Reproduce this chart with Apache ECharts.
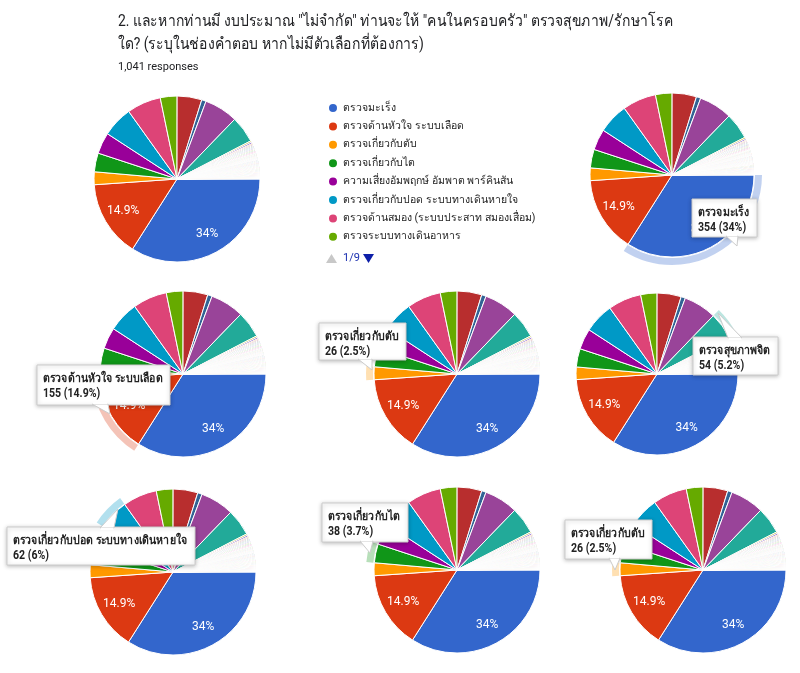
<!DOCTYPE html>
<html><head><meta charset="utf-8">
<script src="https://cdn.jsdelivr.net/npm/echarts@6/dist/echarts.min.js"></script>
<style>html,body{margin:0;padding:0;background:#fff}#c{width:800px;height:673px}</style>
</head><body><div id="c"></div>
<script>
const titleLines = ['2. และหากท่านมี งบประมาณ "ไม่จำกัด" ท่านจะให้ "คนในครอบครัว" ตรวจสุขภาพ/รักษาโรค', 'ใด? (ระบุในช่องคำตอบ หากไม่มีตัวเลือกที่ต้องการ)'];
const subtitle = '1,041 responses';
const legendPageText = '1/9';
const mainNames = ['ตรวจมะเร็ง','ตรวจด้านหัวใจ ระบบเลือด','ตรวจเกี่ยวกับตับ','ตรวจเกี่ยวกับไต','ความเสี่ยงอัมพฤกษ์ อัมพาต พาร์คินสัน','ตรวจเกี่ยวกับปอด ระบบทางเดินหายใจ','ตรวจด้านสมอง (ระบบประสาท สมองเสื่อม)','ตรวจระบบทางเดินอาหาร','ตัวเลือก 9','ตัวเลือก 10','ตัวเลือก 11','ตรวจสุขภาพจิต'];
const mainValues = [354,155,26,38,43,62,69,34,50,9,68,54];
const otherValues = [3,3,2,2,2,2,2,2,2,2,2,2,1,1,1,1,1,1,1,1,1,1,1,1,1,1,1,1,1,1,1,1,1,1,1,1,1,1,1,1,1,1,1,1,1,1,1,1,1,1,1,1,1,1,1,1,1,1,1,1,1,1,1,1,1];
const palette = ['#3366cc','#dc3912','#ff9900','#109618','#990099','#0099c6','#dd4477','#66aa00','#b82e2e','#316395','#994499','#22aa99','#aaaa11','#6633cc','#e67300','#8b0707','#651067','#329262','#5574a6','#3b3eac','#b77322','#16d620','#b91383','#f4359e','#9c5935','#a9c413','#2a778d','#668d1c','#bea413','#0c5922','#743411'];
// pies: center, radius, highlighted slice index (-1 none), tooltip box position
const pies = [
  {c:[177,179], r:83, hi:-1},
  {c:[672,175], r:82, hi:0, box:[692,199,38], ptr:[[726,236],[738,236],[737,246]]},
  {c:[183,374], r:83, hi:1, box:[37,365,40], ptr:[[92,404],[108,404],[110,414]]},
  {c:[457,374], r:83, hi:2, box:[319,323,37], ptr:[[358,359],[372,359],[372,370]]},
  {c:[657,374], r:81, hi:11, box:[693,337,38], ptr:[[728,338],[742,338],[718,313]]},
  {c:[173,572], r:83, hi:5, box:[7,527,38], ptr:[[100,528],[114,528],[118,509]]},
  {c:[457,570], r:83, hi:3, box:[322,503,39], ptr:[[360,541],[373,541],[370,553]]},
  {c:[703,570], r:83, hi:2, box:[565,520,39], ptr:[[609,558],[620,558],[615,570]]}
];

const names = mainNames.concat(otherValues.map((v,i)=>'คำตอบอื่น ' + (i+1)));
const values = mainValues.concat(otherValues);
const total = values.reduce((a,b)=>a+b,0);
const colorOf = i => palette[i % palette.length];
const pct = v => { const p = Math.round(v/total*1000)/10; return (p % 1 === 0 ? p.toFixed(0) : p.toFixed(1)) + '%'; };
const data = names.map((n,i)=>({name:n, value:values[i], itemStyle:{color:colorOf(i)}}));
const FONT = 'Roboto, Arial, "Noto Sans", "DejaVu Sans", sans-serif';
const TIPFONT = 'bold 12px ' + FONT;
const TIPSCALE = 0.88;
const mctx = document.createElement('canvas').getContext('2d');
function textW(t, f){ mctx.font = f; return mctx.measureText(t).width; }
function hexA(hex, a){ const n=parseInt(hex.slice(1),16); return `rgba(${n>>16&255},${n>>8&255},${n&255},${a})`; }

const series = [];
const graphic = [];
pies.forEach((p, k) => {
  series.push({type:'pie', center:p.c, radius:[0,p.r], startAngle:0, clockwise:true, silent:true, animation:false,
    avoidLabelOverlap:false, label:{show:false}, labelLine:{show:false},
    itemStyle:{borderColor:'#fff', borderWidth:1}, data:data});
  series.push({type:'pie', center:p.c, radius:[p.r*0.44,p.r], startAngle:0, clockwise:true, silent:true, animation:false,
    avoidLabelOverlap:false, labelLine:{show:false},
    label:{show:true, position:'inside', color:'#fff', fontSize:12, fontFamily:FONT,
      formatter: prm => prm.value/total > 0.1 ? pct(prm.value) : ''},
    itemStyle:{color:'transparent'}, data:names.map((n,i)=>({name:n, value:values[i]}))});
  if (p.hi >= 0) {
    series.push({type:'pie', center:p.c, radius:[p.r+1,p.r+8], startAngle:0, clockwise:true, silent:true, animation:false,
      label:{show:false}, labelLine:{show:false},
      data:names.map((n,i)=>({name:n, value:values[i], itemStyle:{color: i===p.hi ? hexA(colorOf(i),0.3) : 'transparent'}}))});
    const l1 = names[p.hi], l2 = values[p.hi] + ' (' + pct(values[p.hi]) + ')';
    const [bx,by,bh] = p.box;
    const bw = Math.ceil(Math.max(textW(l1,TIPFONT), textW(l2,TIPFONT)) * TIPSCALE) + 13;
    graphic.push({type:'rect', shape:{x:bx,y:by,width:bw,height:bh}, z:100,
      style:{fill:'#fff', stroke:'#cccccc', lineWidth:1, shadowBlur:4, shadowColor:'rgba(0,0,0,0.25)', shadowOffsetY:1}});
    graphic.push({type:'polygon', shape:{points:p.ptr}, z:101, style:{fill:'#fff', stroke:'#cccccc', lineWidth:1}});
    const atBottom = p.ptr[2][1] > by + bh;
    graphic.push({type:'rect', shape:{x:p.ptr[0][0]+0.5, y: atBottom ? by+bh-3 : by+1, width:p.ptr[1][0]-p.ptr[0][0]-1, height:2}, z:102, style:{fill:'#fff'}});
    graphic.push({type:'text', x:bx+6, y:by+6, z:103, scaleX:TIPSCALE,
      style:{text:l1 + '\n' + l2, fill:'#222', font:TIPFONT, lineHeight:15}});
  }
});

graphic.push({type:'text', x:118, y:10, scaleX:0.87, style:{text:titleLines.join('\n'), fill:'#202124', font:'16px ' + FONT, lineHeight:23}});
graphic.push({type:'text', x:118, y:62, style:{text:subtitle, fill:'#202124', font:'11px ' + FONT}});
// legend page controller
graphic.push({type:'polygon', shape:{points:[[326,263],[337,263],[331.5,254]]}, style:{fill:'#c8c8c8'}});
graphic.push({type:'text', x:343, y:253, style:{text:legendPageText, fill:'#1a2fb0', font:'11px ' + FONT}});
graphic.push({type:'polygon', shape:{points:[[363,254],[374,254],[368.5,263]]}, style:{fill:'#0d1fa8'}});

const chart = echarts.init(document.getElementById('c'), null, {renderer:'canvas'});
chart.setOption({
  animation:false,
  backgroundColor:'#fff',
  legend:{orient:'vertical', left:322, top:97, itemGap:6.4, icon:'circle', itemWidth:10, itemHeight:10,
    selectedMode:false, data:names.slice(0,8), textStyle:{fontSize:10.5, color:'#222', fontFamily:FONT}},
  series:series,
  graphic:graphic
});
</script></body></html>
